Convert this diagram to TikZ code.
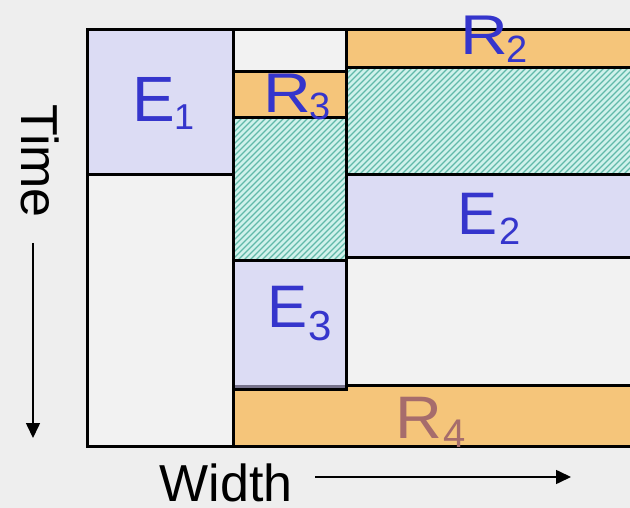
\documentclass[tikz,border=0pt]{standalone}
\usepackage{fontspec}
\setmainfont{Liberation Sans}
\usetikzlibrary{arrows.meta}

\definecolor{pagebg}{HTML}{EEEEEE}
\definecolor{innerbg}{HTML}{F2F2F2}
\definecolor{lav}{HTML}{DCDCF4}
\definecolor{orng}{HTML}{F5C57A}
\definecolor{hbg}{HTML}{D0F1EB}
\definecolor{hline}{HTML}{62B9A9}
\definecolor{lblue}{HTML}{3535CC}
\definecolor{lbrown}{HTML}{A66C6C}
\definecolor{overlap}{HTML}{77738C}

\tikzset{
  frame/.style={draw=black, line width=3pt},
  exec/.style={fill=lav},
  recf/.style={fill=orng},
  big/.style={inner sep=0pt, anchor=base west, font=\fontsize{60}{60}\selectfont},
  sub/.style={inner sep=0pt, anchor=base west, font=\fontsize{38}{38}\selectfont},
  axislabel/.style={inner sep=0pt, anchor=base west, font=\fontsize{52}{52}\selectfont},
  axisarrow/.style={line width=1.6pt, -{Triangle[length=15pt,width=14pt]}},
}

% diagonal hatching inside a rectangle
\newcommand{\hatchrect}[2]{%
  \begin{scope}
    \clip #1 rectangle #2;
    \fill[hbg] #1 rectangle #2;
    \foreach \k in {-480,-474,...,660}
      \draw[hline, line width=1.1pt] (\k,480) -- ++(480,-480);
  \end{scope}}

% a slightly wide capital R
\newcommand{\wideR}[1]{\scalebox{#1}[1]{R}}

\begin{document}
\begin{tikzpicture}[x=1pt,y=-1pt]
  \useasboundingbox (0,0) rectangle (630,508);
  \fill[pagebg] (0,0) rectangle (630,508);

  % region of the schedule
  \fill[innerbg] (87,30) rectangle (640,446);

  % fills
  \fill[exec] (87,30) rectangle (233,175);           % E1
  \fill[recf] (346,30) rectangle (640,68);           % R2
  \hatchrect{(346,68)}{(640,175)}
  \fill[recf] (233,72) rectangle (346,118);          % R3
  \hatchrect{(233,118)}{(346,261)}
  \fill[exec] (346,175) rectangle (640,258);         % E2
  \fill[recf] (233,385) rectangle (640,446);         % R4

  % outlines
  \draw[frame] (87,30) rectangle (640,446);
  \draw[frame] (87,175) -- (233,175);
  \draw[frame] (233,30) -- (233,446);
  \draw[frame] (346,30) -- (346,261);
  \draw[frame] (346,68) -- (640,68);
  \draw[frame] (346,175) -- (640,175);
  \draw[frame] (346,258) -- (640,258);
  \draw[frame] (233,72) -- (346,72);
  \draw[frame] (233,118) -- (346,118);
  \draw[frame] (233,385) -- (640,385);

  % E3 laid over the top edge of R4
  \fill[exec] (233,261) rectangle (346,385);
  \fill[overlap] (233,385) rectangle (346,389);
  \draw[frame] (233,261) rectangle (346,389);

  % labels
  \node[big, font=\fontsize{64}{64}\selectfont, text=lblue] (e1) at (132,122) {E};
  \node[sub, font=\fontsize{36}{36}\selectfont, text=lblue] (e1s) at (174,130) {1};
  \node[big, font=\fontsize{56}{56}\selectfont, text=lblue] (r2) at (460,55) {\wideR{1.18}};
  \node[sub, text=lblue] (r2s) at (506,63) {2};
  \node[big, font=\fontsize{56}{56}\selectfont, text=lblue] (r3) at (263,113) {\wideR{1.18}};
  \node[sub, text=lblue] (r3s) at (309,120) {3};
  \node[big, text=lblue] (e2) at (457,235) {E};
  \node[sub, text=lblue] (e2s) at (499,244) {2};
  \node[big, text=lblue] (e3) at (267,327) {E};
  \node[sub, font=\fontsize{42}{42}\selectfont, text=lblue] (e3s) at (308,340) {3};
  \node[big, text=lbrown] (r4) at (395,438) {\wideR{1.08}};
  \node[sub, font=\fontsize{40}{40}\selectfont, text=lbrown] (r4s) at (443,447) {4};

  % axes
  \node[axislabel, rotate=-90] (time) at (21,104) {Time};
  \coordinate (tstart) at (33,243);
  \coordinate (tend) at (33,438);
  \draw[axisarrow] (tstart) -- (tend);

  \node[axislabel] (width) at (159.5,501) {Width};
  \coordinate (wstart) at (315,477);
  \coordinate (wend) at (571,477);
  \draw[axisarrow] (wstart) -- (wend);
\end{tikzpicture}
\end{document}
